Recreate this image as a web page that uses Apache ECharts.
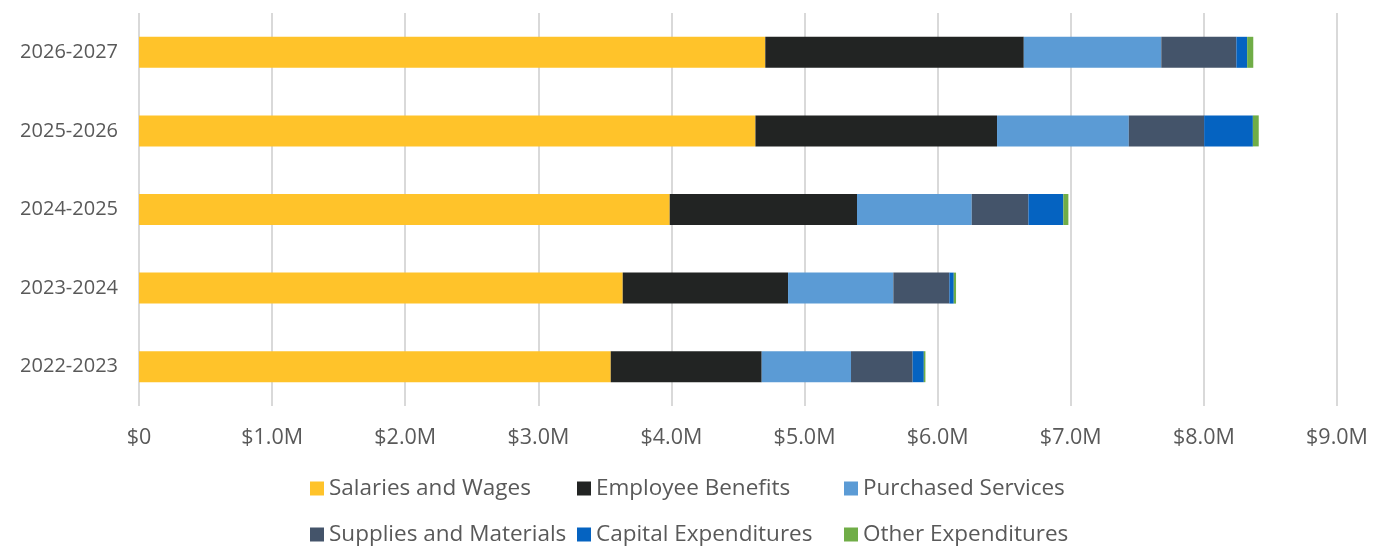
<!DOCTYPE html>
<html>
<head>
<meta charset="utf-8">
<script src="https://cdn.jsdelivr.net/npm/echarts@6/dist/echarts.min.js"></script>
<style>
  html, body { margin: 0; padding: 0; background: #fff; }
  #chart { width: 1375px; height: 546px; }
</style>
</head>
<body>
<div id="chart"></div>
<script>
// 年度（从下到上）
var years = ['2022-2023', '2023-2024', '2024-2025', '2025-2026', '2026-2027']
var seriesNames = ['Salaries and Wages', 'Employee Benefits', 'Purchased Services',
  'Supplies and Materials', 'Capital Expenditures', 'Other Expenditures']
// 各项支出（美元）
var salaries = [3544000, 3634000, 3987000, 4631000, 4705000]
var benefits = [1134000, 1242000, 1407000, 1815000, 1942000]
var purchased = [671000, 791000, 862000, 990000, 1033000]
var supplies = [463000, 421000, 426000, 566000, 564000]
var capital = [84000, 33000, 262000, 366000, 81000]
var other = [12000, 17000, 38000, 44000, 46000]
var colors = ['#FFC32A', '#222423', '#5B9BD5', '#44546A', '#0563C1', '#70AD47']

var FONT = '"Open Sans", "Noto Sans", sans-serif'

var allData = [salaries, benefits, purchased, supplies, capital, other]
var series = seriesNames.map(function (name, i) {
  return {
    name: name,
    type: 'bar',
    stack: 'total',
    barWidth: 31,
    itemStyle: { color: colors[i] },
    data: allData[i],
  }
})

var myChart = echarts.init(document.getElementById('chart'))
var option = {
  animation: false,
  textStyle: { fontFamily: FONT },
  grid: {
    left: 139,
    right: 38,
    top: 13,
    bottom: 140,
    outerBoundsMode: 'none',
  },
  legend: {
    left: 305,
    top: 462,
    width: 820,
    itemWidth: 14,
    itemHeight: 14,
    itemGap: 3,
    icon: 'rect',
    data: seriesNames,
    textStyle: {
      color: '#595959',
      fontSize: 22.5,
      fontFamily: FONT,
      width: 245,
      lineHeight: 43,
    },
  },
  xAxis: {
    type: 'value',
    min: 0,
    max: 9000000,
    interval: 1000000,
    axisLine: { show: false },
    axisTick: { show: false },
    splitLine: {
      show: true,
      lineStyle: { color: '#D9D9D9', width: 2 },
    },
    axisLabel: {
      color: '#595959',
      fontSize: 21.5,
      fontFamily: FONT,
      margin: 21,
      formatter: function (v) {
        if (v === 0) return '$0'
        return '$' + (v / 1000000).toFixed(1) + 'M'
      },
    },
  },
  yAxis: {
    type: 'category',
    data: years,
    axisLine: { show: false },
    axisTick: { show: false },
    axisLabel: {
      color: '#595959',
      fontSize: 20,
      fontFamily: FONT,
      margin: 21,
    },
  },
  series: series,
}
myChart.setOption(option)
</script>
</body>
</html>
